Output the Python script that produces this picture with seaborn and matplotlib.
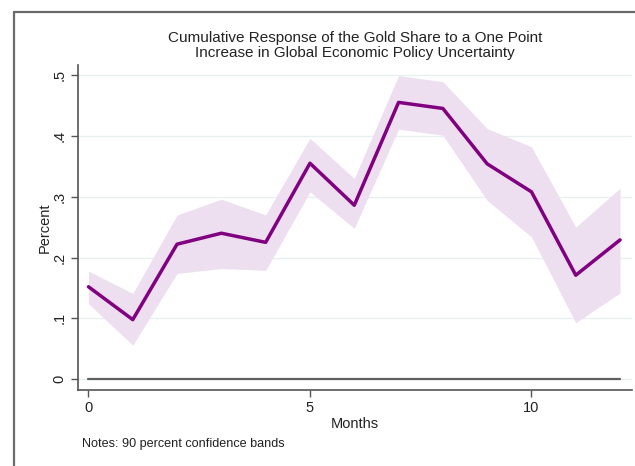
import matplotlib
matplotlib.use("Agg")
import matplotlib.pyplot as plt
from matplotlib.lines import Line2D
import numpy as np
import pandas as pd
import seaborn as sns

# Impulse response of the gold share, with 90% bands
months = [0, 1, 2, 3, 4, 5, 6, 7, 8, 9, 10, 11, 12]
response = [0.152, 0.098, 0.222, 0.240, 0.225, 0.355, 0.286, 0.455, 0.445, 0.354, 0.308, 0.171, 0.229]
upper = [0.178, 0.141, 0.270, 0.296, 0.270, 0.396, 0.330, 0.499, 0.489, 0.412, 0.382, 0.250, 0.314]
lower = [0.124, 0.056, 0.174, 0.182, 0.179, 0.308, 0.248, 0.411, 0.401, 0.294, 0.234, 0.093, 0.142]
zero = [0.0] * len(months)

y_ticks = [0, 0.1, 0.2, 0.3, 0.4, 0.5]
y_tick_labels = ["0", ".1", ".2", ".3", ".4", ".5"]
x_ticks = [0, 5, 10]

title_lines = ["Cumulative Response of the Gold Share to a One Point",
               "Increase in Global Economic Policy Uncertainty"]

df = pd.DataFrame({"Months": months, "Response": response,
                   "Upper": upper, "Lower": lower, "Zero": zero})

sns.set_theme(style="white")
plt.rcParams["font.family"] = ["Liberation Sans", "DejaVu Sans"]

fig = plt.figure(figsize=(6.35, 4.66), dpi=100)
ax = fig.add_axes([0.1228, 0.1631, 0.8725, 0.6974])

ax.fill_between(df["Months"], df["Lower"], df["Upper"],
                color="#eddff0", linewidth=0, zorder=1)
sns.lineplot(data=df, x="Months", y="Zero", ax=ax, color="#5f5f5f",
             linewidth=1.6, zorder=2)
sns.lineplot(data=df, x="Months", y="Response", ax=ax, color="#800080",
             linewidth=2.5, zorder=3)

ax.set_xlim(-0.237, 12.27)
ax.set_ylim(-0.0176, 0.5164)

ax.set_yticks(y_ticks)
ax.set_yticklabels(y_tick_labels, rotation=90, va="center")
ax.set_xticks(x_ticks)
ax.grid(axis="y", color="#e6f0f0", linewidth=0.9)
ax.grid(axis="x", visible=False)
ax.set_axisbelow(True)

for side in ["top", "right"]:
    ax.spines[side].set_visible(False)
for side in ["left", "bottom"]:
    ax.spines[side].set_color("#555555")
    ax.spines[side].set_linewidth(1.2)

ax.tick_params(axis="both", which="major", length=5, width=1.0,
               color="#555555", labelsize=10.5, labelcolor="#222222", pad=3,
               left=True, bottom=True)

ax.set_xlabel("Months", fontsize=10.5, color="#222222", labelpad=1.5)
ax.set_ylabel("Percent", fontsize=10.5, color="#222222", labelpad=1)

# two-line title, one text per line
for line, ypix in zip(title_lines, [38.3, 52.7]):
    fig.text(355 / 635, 1 - ypix / 466, line,
             ha="center", va="center", fontsize=11, color="#222222")

fig.text(81.5 / 635, 1 - 444.3 / 466, "Notes: 90 percent confidence bands",
         ha="left", va="center", fontsize=9.1, color="#222222")

# outer graph-region border on the top and left
fig.add_artist(Line2D([14 / 635, 14 / 635], [0, 1 - 12 / 466],
                      transform=fig.transFigure, color="#6a6a6a", linewidth=1.6))
fig.add_artist(Line2D([14 / 635, 1], [1 - 12 / 466, 1 - 12 / 466],
                      transform=fig.transFigure, color="#6a6a6a", linewidth=1.6))

fig.savefig("out.png", dpi=100)
